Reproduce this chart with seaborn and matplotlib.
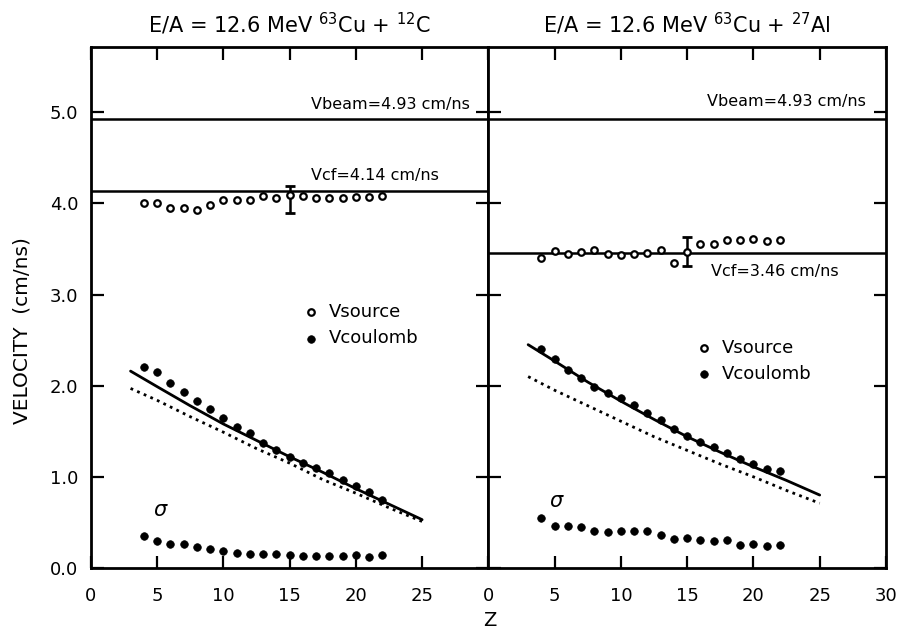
import matplotlib
matplotlib.use("Agg")
import matplotlib.pyplot as plt
import seaborn as sns

# ---------------- data ----------------
Z = list(range(4, 23))
Zm = [3, 5, 7.5, 10, 12.5, 15, 17.5, 20, 22.5, 25]

# left panel: 63Cu + 12C
c_vsource = [4.01, 4.00, 3.95, 3.945, 3.93, 3.98, 4.04, 4.04, 4.04, 4.08,
             4.06, 4.09, 4.08, 4.06, 4.055, 4.06, 4.07, 4.07, 4.085]
c_vcoul = [2.21, 2.15, 2.03, 1.93, 1.83, 1.74, 1.64, 1.55, 1.48, 1.37,
           1.29, 1.22, 1.15, 1.095, 1.04, 0.96, 0.90, 0.83, 0.75]
c_sigma = [0.355, 0.30, 0.26, 0.26, 0.235, 0.21, 0.19, 0.16, 0.155, 0.15,
           0.155, 0.14, 0.135, 0.13, 0.13, 0.13, 0.14, 0.125, 0.14]
c_solid = [2.16, 1.99, 1.78, 1.58, 1.40, 1.22, 1.05, 0.87, 0.70, 0.53]
c_dotted = [1.97, 1.84, 1.66, 1.49, 1.31, 1.15, 0.97, 0.82, 0.66, 0.51]
c_vbeam = 4.93
c_vcf = 4.14
c_err_z = [15]
c_err_v = [4.09]
c_err_lo = [0.20]
c_err_hi = [0.10]

# right panel: 63Cu + 27Al
a_vsource = [3.40, 3.48, 3.45, 3.465, 3.49, 3.45, 3.43, 3.44, 3.46, 3.49,
             3.35, 3.47, 3.55, 3.55, 3.60, 3.60, 3.615, 3.585, 3.60]
a_vcoul = [2.40, 2.29, 2.17, 2.08, 1.99, 1.92, 1.86, 1.79, 1.70, 1.62,
           1.52, 1.45, 1.38, 1.33, 1.26, 1.20, 1.14, 1.09, 1.06]
a_sigma = [0.545, 0.465, 0.465, 0.45, 0.41, 0.39, 0.41, 0.41, 0.41, 0.36,
           0.32, 0.33, 0.31, 0.30, 0.31, 0.25, 0.26, 0.24, 0.25]
a_solid = [2.45, 2.27, 2.04, 1.83, 1.63, 1.44, 1.27, 1.11, 0.96, 0.80]
a_dotted = [2.10, 1.95, 1.78, 1.61, 1.44, 1.29, 1.14, 1.00, 0.85, 0.71]
a_vbeam = 4.93
a_vcf = 3.46
a_err_z = [15]
a_err_v = [3.47]
a_err_lo = [0.16]
a_err_hi = [0.16]

titles = [r"E/A = 12.6 MeV $^{63}$Cu + $^{12}$C",
          r"E/A = 12.6 MeV $^{63}$Cu + $^{27}$Al"]
left_xticks = [0, 5, 10, 15, 20, 25]
right_xticks = [0, 5, 10, 15, 20, 25, 30]
yticks = [0, 1, 2, 3, 4, 5]
ytick_labels = ["0.0", "1.0", "2.0", "3.0", "4.0", "5.0"]

# ---------------- style ----------------
sns.set_style("ticks")
plt.rcParams["font.family"] = ["DejaVu Sans"]
plt.rcParams["text.color"] = "black"
plt.rcParams["axes.labelcolor"] = "black"
plt.rcParams["xtick.color"] = "black"
plt.rcParams["ytick.color"] = "black"
plt.rcParams["axes.edgecolor"] = "black"

fig, axes = plt.subplots(1, 2, figsize=(8.99, 6.36), dpi=100, sharey=True)
fig.subplots_adjust(left=0.101, right=0.9855, bottom=0.107, top=0.9266, wspace=0)

panels = [
    dict(vs=c_vsource, vc=c_vcoul, sg=c_sigma, so=c_solid, do=c_dotted,
         vb=c_vbeam, vcf=c_vcf, ez=c_err_z, ev=c_err_v, elo=c_err_lo, ehi=c_err_hi,
         xt=left_xticks, vb_txt=(16.65, 5.04), vcf_txt=(16.65, 4.26),
         sig_txt=(5.3, 0.64), leg=(0.536, 0.508)),
    dict(vs=a_vsource, vc=a_vcoul, sg=a_sigma, so=a_solid, do=a_dotted,
         vb=a_vbeam, vcf=a_vcf, ez=a_err_z, ev=a_err_v, elo=a_err_lo, ehi=a_err_hi,
         xt=right_xticks, vb_txt=(16.5, 5.07), vcf_txt=(16.8, 3.20),
         sig_txt=(5.2, 0.74), leg=(0.523, 0.439)),
]

for ax, p, title in zip(axes, panels, titles):
    ax.axhline(p["vb"], color="black", lw=1.8)
    ax.axhline(p["vcf"], color="black", lw=1.8)
    ax.text(p["vb_txt"][0], p["vb_txt"][1], f"Vbeam={p['vb']:.2f} cm/ns",
            ha="left", va="baseline", fontsize=11.5)
    ax.text(p["vcf_txt"][0], p["vcf_txt"][1], f"Vcf={p['vcf']:.2f} cm/ns",
            ha="left", va="baseline", fontsize=11.5)

    sns.lineplot(x=Zm, y=p["so"], ax=ax, color="black", lw=2.0)
    sns.lineplot(x=Zm, y=p["do"], ax=ax, color="black", lw=2.0,
                 linestyle=(0, (1.0, 1.6)))

    ax.errorbar(p["ez"], p["ev"], yerr=[p["elo"], p["ehi"]], fmt="none",
                ecolor="black", elinewidth=1.8, capsize=3.5, capthick=2)

    sns.scatterplot(x=Z, y=p["vs"], ax=ax, marker="o", s=22, color="white",
                    edgecolor="black", linewidth=1.6, label="Vsource", zorder=5)
    sns.scatterplot(x=Z, y=p["vc"], ax=ax, marker="o", s=30, color="black",
                    edgecolor="black", linewidth=0.5, label="Vcoulomb", zorder=5)
    sns.scatterplot(x=Z, y=p["sg"], ax=ax, marker="o", s=30, color="black",
                    edgecolor="black", linewidth=0.5, label="_nolegend_", zorder=5)

    ax.text(p["sig_txt"][0], p["sig_txt"][1], r"$\sigma$", ha="center",
            va="center", fontsize=15)

    ax.legend(loc="upper left", bbox_to_anchor=p["leg"], frameon=False,
              fontsize=13, handlelength=0.8, handletextpad=0.6,
              borderpad=0, borderaxespad=0, labelspacing=0.45)

    ax.set_xlim(0, 30)
    ax.set_ylim(0, 5.72)
    ax.set_xticks(p["xt"])
    ax.set_xticklabels([str(t) for t in p["xt"]])
    ax.set_yticks(yticks)
    ax.set_yticklabels(ytick_labels)
    ax.set_title(title, fontsize=15, pad=10, color="black")
    ax.set_xlabel("")
    ax.set_ylabel("")
    ax.tick_params(axis="both", direction="in", length=9, width=1.6,
                   top=True, right=True, labelsize=13, color="black",
                   labelcolor="black")
    ax.tick_params(axis="x", pad=14)
    ax.tick_params(axis="y", pad=9)
    for s in ax.spines.values():
        s.set_linewidth(2.0)
        s.set_color("black")

axes[1].tick_params(axis="y", labelleft=False)

fig.text(0.025, 0.481, "VELOCITY  (cm/ns)", rotation=90, ha="center",
         va="center", fontsize=14.5)
fig.text(0.545, 0.025, "Z", ha="center", va="center", fontsize=14)

fig.savefig("out.png", dpi=100)
